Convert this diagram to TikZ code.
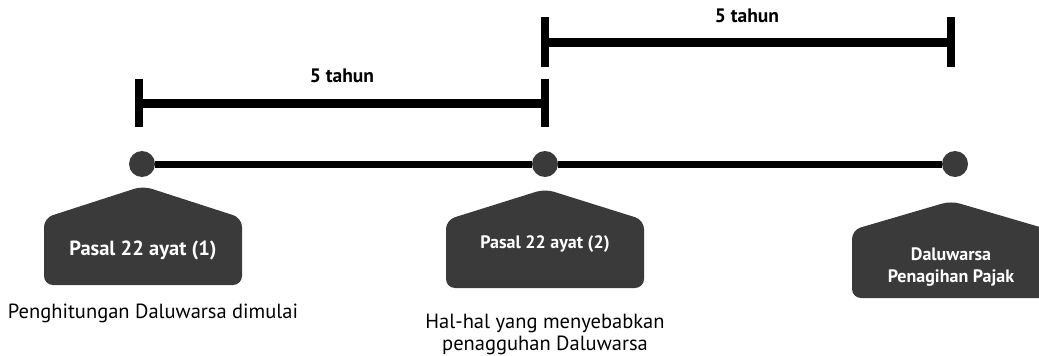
\documentclass[tikz,border=0pt]{standalone}
\usepackage{fontspec}
\setmainfont{PT Sans}
\usepackage{xcolor}
\definecolor{tagdark}{HTML}{3A3A3A}

\tikzset{
    tagfill/.style={fill=tagdark, rounded corners=9pt},
    dot/.style={circle, fill=tagdark, minimum size=26pt, inner sep=0pt},
    timeline/.style={line width=7pt, black},
    span/.style={line width=9pt, black},
    tick/.style={line width=8pt, black},
    taglabel/.style={text=white, anchor=base, font=\bfseries\fontsize{18}{22}\selectfont, align=center},
    caption/.style={anchor=base, font=\fontsize{20.5}{22}\selectfont, align=center},
    spanlabel/.style={anchor=base, font=\bfseries\fontsize{19.5}{22}\selectfont}
}

\begin{document}
\begin{tikzpicture}[x=1pt, y=-1pt]
    \useasboundingbox (0,0) rectangle (1039,356);
    \clip (0,0) rectangle (1039,356);
    % timeline
    \node[dot] (d1) at (142,164) {};
    \node[dot] (d2) at (545,164) {};
    \node[dot] (d3) at (955,164) {};
    \draw[timeline] (d1) -- (d2) -- (d3);
    % spans
    \coordinate (s1) at (139,103); \coordinate (e1) at (545,103);
    \coordinate (s2) at (545,42);  \coordinate (e2) at (951,42);
    \draw[span] (s1) -- (e1);
    \draw[span] (s2) -- (e2);
    \draw[tick] ([yshift=-24pt]s1) -- ([yshift=24pt]s1);
    \draw[tick] ([yshift=-24pt]e1) -- ([yshift=24pt]e1);
    \draw[tick] ([yshift=-25pt]s2) -- ([yshift=25pt]s2);
    \draw[tick] ([yshift=-25pt]e2) -- ([yshift=25pt]e2);
    \node[spanlabel] (l1) at (342,82) {5 tahun};
    \node[spanlabel] (l2) at (747,23) {5 tahun};
    % tags
    \fill[tagfill] (143,186) -- ++(99,32) -- ++(0,67) -- ++(-198,0) -- ++(0,-67) -- cycle;
    \fill[tagfill] (545,189) -- ++(99,31) -- ++(0,68) -- ++(-198,0) -- ++(0,-68) -- cycle;
    \fill[tagfill] (951,201) -- ++(99,29) -- ++(0,68) -- ++(-198,0) -- ++(0,-68) -- cycle;
    \node[taglabel, font=\bfseries\fontsize{20.5}{22}\selectfont] (t1) at (143,255) {Pasal 22 ayat (1)};
    \node[taglabel] (t2) at (545,248) {Pasal 22 ayat (2)};
    \node[taglabel] (t3) at (951,282) {Daluwarsa\\Penagihan Pajak};
    % captions
    \node[caption] (c1) at (153,318) {Penghitungan Daluwarsa dimulai};
    \node[caption] (c2) at (545,350) {Hal-hal yang menyebabkan\\penagguhan Daluwarsa};
\end{tikzpicture}
\end{document}
